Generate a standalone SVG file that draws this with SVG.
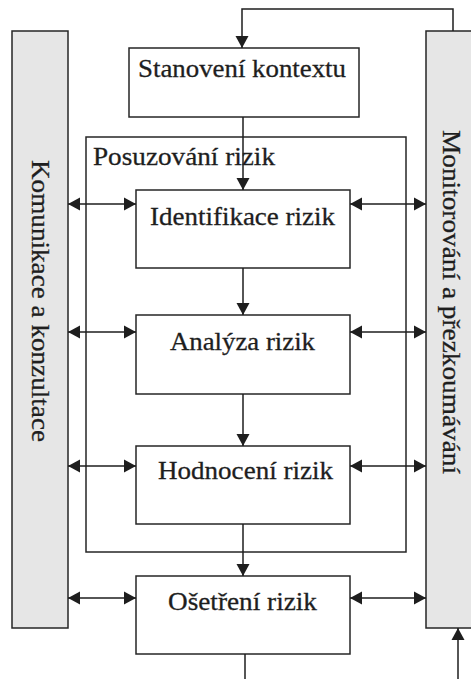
<svg xmlns="http://www.w3.org/2000/svg" width="471" height="679" viewBox="0 0 471 679">
  <style>
    .box { fill: #ffffff; stroke: #262626; stroke-width: 1.5; }
    .bar { fill: #e6e6e6; stroke: #262626; stroke-width: 1.5; }
    .frame { fill: none; stroke: #262626; stroke-width: 1.5; }
    .label { font-family: "Liberation Serif", "Times New Roman", serif; font-size: 26px; fill: #1e1e1e; stroke: #1e1e1e; stroke-width: 0.3; }
    .conn { fill: none; stroke: #1e1e1e; stroke-width: 1.5; }
  </style>
  <defs>
    <marker id="arrow" markerUnits="userSpaceOnUse" markerWidth="13" markerHeight="14" refX="12" refY="7" orient="auto-start-reverse">
      <path d="M0,0.5 L12,7 L0,13.5 z" fill="#1e1e1e"/>
    </marker>
  </defs>

  <rect width="471" height="679" fill="#ffffff"/>

  <!-- side bars -->
  <g id="komunikace">
    <rect class="bar" x="12" y="31" width="56" height="597"/>
    <text class="label" transform="translate(32,160) rotate(90)" textLength="282" lengthAdjust="spacingAndGlyphs">Komunikace a konzultace</text>
  </g>
  <g id="monitorovani">
    <rect class="bar" x="426" y="31" width="50" height="597"/>
    <text class="label" transform="translate(443,130) rotate(90)" textLength="344" lengthAdjust="spacingAndGlyphs">Monitorování a přezkoumávání</text>
  </g>

  <!-- process boxes -->
  <g id="stanoveni">
    <rect class="box" x="129" y="48" width="230" height="69"/>
    <text class="label" x="138" y="77" textLength="208" lengthAdjust="spacingAndGlyphs">Stanovení kontextu</text>
  </g>
  <g id="posuzovani">
    <rect class="frame" x="86" y="137" width="320" height="415"/>
    <text class="label" x="93" y="165" textLength="182" lengthAdjust="spacingAndGlyphs">Posuzování rizik</text>
  </g>
  <g id="identifikace">
    <rect class="box" x="136" y="190" width="214" height="78"/>
    <text class="label" x="150" y="225" textLength="185" lengthAdjust="spacingAndGlyphs">Identifikace rizik</text>
  </g>
  <g id="analyza">
    <rect class="box" x="136" y="315" width="214" height="79"/>
    <text class="label" x="170" y="350" textLength="145" lengthAdjust="spacingAndGlyphs">Analýza rizik</text>
  </g>
  <g id="hodnoceni">
    <rect class="box" x="136" y="446" width="214" height="78"/>
    <text class="label" x="158" y="479" textLength="175" lengthAdjust="spacingAndGlyphs">Hodnocení rizik</text>
  </g>
  <g id="osetreni">
    <rect class="box" x="136" y="576" width="214" height="78"/>
    <text class="label" x="168" y="610" textLength="149" lengthAdjust="spacingAndGlyphs">Ošetření rizik</text>
  </g>

  <!-- connectors -->
  <g id="connectors">
    <path class="conn" d="M453,31 V9 H242 V48" marker-end="url(#arrow)"/>
    <path class="conn" d="M243,117 V190" marker-end="url(#arrow)"/>
    <path class="conn" d="M243,268 V315" marker-end="url(#arrow)"/>
    <path class="conn" d="M243,394 V446" marker-end="url(#arrow)"/>
    <path class="conn" d="M243,524 V576" marker-end="url(#arrow)"/>
    <path class="conn" d="M245,654 V679"/>
    <path class="conn" d="M458,679 V628" marker-end="url(#arrow)"/>

    <path class="conn" d="M68,204 H136" marker-start="url(#arrow)" marker-end="url(#arrow)"/>
    <path class="conn" d="M68,332 H136" marker-start="url(#arrow)" marker-end="url(#arrow)"/>
    <path class="conn" d="M68,466 H136" marker-start="url(#arrow)" marker-end="url(#arrow)"/>
    <path class="conn" d="M68,598 H136" marker-start="url(#arrow)" marker-end="url(#arrow)"/>

    <path class="conn" d="M350,204 H426" marker-start="url(#arrow)" marker-end="url(#arrow)"/>
    <path class="conn" d="M350,332 H426" marker-start="url(#arrow)" marker-end="url(#arrow)"/>
    <path class="conn" d="M350,466 H426" marker-start="url(#arrow)" marker-end="url(#arrow)"/>
    <path class="conn" d="M350,598 H426" marker-start="url(#arrow)" marker-end="url(#arrow)"/>
  </g>
</svg>
